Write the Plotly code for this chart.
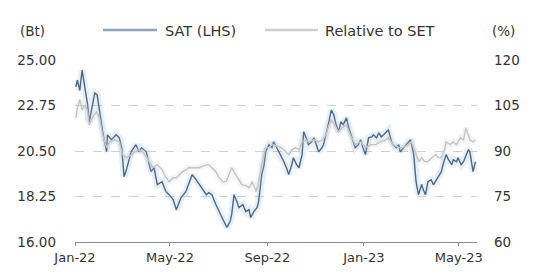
import plotly.graph_objects as go

# ---- data ----
sat_dates = ["2022-01-02","2022-01-04","2022-01-07","2022-01-10","2022-01-14","2022-01-17","2022-01-19","2022-01-22","2022-01-26","2022-01-29",
"2022-02-01","2022-02-05","2022-02-10","2022-02-11","2022-02-16","2022-02-22","2022-02-26","2022-03-01","2022-03-04","2022-03-07",
"2022-03-13","2022-03-19","2022-03-23","2022-03-26","2022-04-01","2022-04-07","2022-04-11","2022-04-15","2022-04-21","2022-04-26",
"2022-04-30","2022-05-05","2022-05-09","2022-05-13","2022-05-15","2022-05-21","2022-05-29","2022-06-03","2022-06-07","2022-06-12",
"2022-06-16","2022-06-19","2022-06-23","2022-06-28","2022-07-02","2022-07-07","2022-07-12","2022-07-16","2022-07-18","2022-07-21",
"2022-07-25","2022-07-27","2022-08-01","2022-08-05","2022-08-09","2022-08-11","2022-08-15","2022-08-19","2022-08-21","2022-08-25",
"2022-08-28","2022-08-30","2022-09-03","2022-09-07","2022-09-09","2022-09-13","2022-09-16","2022-09-19","2022-09-22","2022-09-26",
"2022-09-28","2022-10-02","2022-10-04","2022-10-08","2022-10-11","2022-10-15","2022-10-17","2022-10-21","2022-10-23","2022-10-27",
"2022-10-30","2022-11-02","2022-11-05","2022-11-09","2022-11-11","2022-11-15","2022-11-19","2022-11-21","2022-11-24","2022-11-26",
"2022-11-30","2022-12-03","2022-12-06","2022-12-10","2022-12-13","2022-12-16","2022-12-21","2022-12-25","2022-12-28","2022-12-31",
"2023-01-03","2023-01-07","2023-01-11","2023-01-13","2023-01-17","2023-01-20","2023-01-23","2023-01-26","2023-01-30","2023-02-01",
"2023-02-05","2023-02-07","2023-02-11","2023-02-14","2023-02-16","2023-02-20","2023-02-23","2023-02-26","2023-03-01","2023-03-05",
"2023-03-08","2023-03-11","2023-03-15","2023-03-17","2023-03-20","2023-03-23","2023-03-27","2023-03-30","2023-04-03","2023-04-05",
"2023-04-09","2023-04-11","2023-04-15","2023-04-18","2023-04-22","2023-04-24","2023-04-28","2023-04-30","2023-05-04","2023-05-07",
"2023-05-10","2023-05-13","2023-05-15","2023-05-18","2023-05-19","2023-05-22"]
sat_values = [23.67,24.0,23.5,24.5,23.5,22.78,21.94,22.6,23.37,23.27,
22.53,21.45,20.46,21.3,21.06,21.3,21.15,20.66,19.23,19.58,
20.46,20.81,20.46,20.66,20.46,19.48,19.67,18.84,18.98,18.49,
18.34,18.1,17.6,17.95,18.2,18.49,19.33,19.08,18.84,18.59,
18.34,18.44,18.34,17.85,17.5,17.11,16.72,17.01,17.36,18.34,
17.95,17.7,17.85,17.5,17.6,17.21,17.5,17.7,18.0,19.33,
19.82,20.46,20.81,20.66,20.96,20.66,20.46,20.17,19.97,19.58,
19.33,19.82,20.17,19.82,19.67,20.32,21.45,21.06,20.81,20.96,
21.15,20.81,20.46,20.66,20.81,21.45,22.14,22.53,22.29,21.94,
21.45,21.94,21.8,22.14,21.65,21.3,20.66,20.81,21.06,20.66,
20.32,21.15,21.2,21.3,21.15,21.4,21.2,21.3,21.45,21.55,
20.96,20.81,20.66,20.81,20.46,20.66,20.81,20.96,21.06,20.32,
18.98,18.34,18.84,18.59,18.34,18.98,19.08,18.84,19.08,19.18,
19.48,19.82,20.32,20.07,19.82,20.07,19.97,20.17,19.82,19.97,
20.32,20.56,20.46,19.82,19.48,19.97]

rel_dates = ["2022-01-02","2022-01-04","2022-01-07","2022-01-10","2022-01-14","2022-01-17","2022-01-19","2022-01-23","2022-01-28","2022-02-01",
"2022-02-05","2022-02-10","2022-02-14","2022-02-20","2022-02-26","2022-03-02","2022-03-07","2022-03-14","2022-03-21","2022-03-27",
"2022-04-02","2022-04-09","2022-04-15","2022-04-21","2022-04-26","2022-04-30","2022-05-05","2022-05-09","2022-05-13","2022-05-17",
"2022-05-21","2022-05-25","2022-06-01","2022-06-07","2022-06-13","2022-06-19","2022-06-23","2022-06-28","2022-07-02","2022-07-07",
"2022-07-11","2022-07-15","2022-07-18","2022-07-23","2022-07-27","2022-07-31","2022-08-05","2022-08-09","2022-08-13","2022-08-18",
"2022-08-21","2022-08-25","2022-08-30","2022-09-03","2022-09-07","2022-09-13","2022-09-19","2022-09-24","2022-09-28","2022-10-02",
"2022-10-07","2022-10-11","2022-10-15","2022-10-20","2022-10-23","2022-10-30","2022-11-05","2022-11-10","2022-11-14","2022-11-18",
"2022-11-21","2022-11-25","2022-11-30","2022-12-04","2022-12-10","2022-12-15","2022-12-21","2022-12-28","2023-01-03","2023-01-10",
"2023-01-16","2023-01-22","2023-01-29","2023-02-01","2023-02-07","2023-02-14","2023-02-20","2023-02-26","2023-03-02","2023-03-06",
"2023-03-08","2023-03-12","2023-03-15","2023-03-19","2023-03-23","2023-03-28","2023-04-02","2023-04-05","2023-04-09","2023-04-13",
"2023-04-15","2023-04-20","2023-04-24","2023-04-28","2023-05-03","2023-05-07","2023-05-10","2023-05-13","2023-05-15","2023-05-19",
"2023-05-22"]
rel_values = [100.9,104.2,106.9,103.6,105.2,102.9,98.6,100.9,102.9,100.9,
95.3,91.1,93.0,93.7,93.0,88.8,87.8,88.8,90.4,89.8,
87.8,84.5,85.5,83.8,81.2,79.9,81.2,81.2,82.2,83.2,
83.8,84.5,84.5,84.5,85.2,85.5,84.5,83.2,81.2,79.9,
79.9,82.2,84.5,82.2,80.6,78.9,78.6,77.9,79.9,76.6,
79.9,85.5,91.1,91.1,92.1,91.7,91.1,89.8,88.8,90.4,
91.1,90.4,93.0,93.7,93.0,93.7,93.0,93.7,95.3,98.6,
100.3,98.6,96.3,97.6,98.6,95.3,92.1,93.0,91.1,92.1,
92.1,93.0,93.7,94.4,92.1,91.1,91.1,92.1,93.0,90.4,
88.8,86.5,87.8,86.5,86.5,87.8,88.8,87.8,87.8,90.4,
93.0,92.1,93.0,92.1,94.4,93.7,97.6,95.3,93.7,93.0,
93.7]

x_tickvals = ["2022-01-01","2022-05-01","2022-09-01","2023-01-01","2023-05-01"]
x_ticktext = ["Jan-22","May-22","Sep-22","Jan-23","May-23"]
left_ticks = [16.00, 18.25, 20.50, 22.75, 25.00]
right_ticks = [60, 75, 90, 105, 120]
series_names = ["SAT (LHS)", "Relative to SET"]

FONT = "DejaVu Sans, Verdana, sans-serif"
TXT = "#333333"
SAT_COLOR = "#4a6888"
REL_COLOR = "#c4c4c4"

fig = go.Figure()
# soft shadows under the lines
fig.add_trace(go.Scatter(x=sat_dates, y=sat_values, mode="lines",
                         line=dict(color="rgba(140,185,225,0.22)", width=7),
                         hoverinfo="skip", showlegend=False))
fig.add_trace(go.Scatter(x=rel_dates, y=rel_values, mode="lines", yaxis="y2",
                         line=dict(color="rgba(200,200,200,0.18)", width=6),
                         hoverinfo="skip", showlegend=False))
fig.add_trace(go.Scatter(x=sat_dates, y=sat_values, mode="lines", name=series_names[0],
                         showlegend=False, line=dict(color=SAT_COLOR, width=1.4)))
fig.add_trace(go.Scatter(x=rel_dates, y=rel_values, mode="lines", name=series_names[1],
                         yaxis="y2", showlegend=False, line=dict(color=REL_COLOR, width=1.4)))

L, T, R, B = 75, 60, 58, 38
PW = 535.0 - L - R
PH = 280.0 - T - B

def px_x(x):
    return (x - L) / PW

def px_y(y):
    return (T + PH - y) / PH

# legend drawn as key lines + labels above the plot
legend_items = [(103, 157, 163, series_names[0], "#8ea4bc"),
                (265, 318, 323, series_names[1], "#cfcfcf")]
shapes = []
annotations = []
for x0, x1, xt, name, col in legend_items:
    shapes.append(dict(type="line", xref="paper", yref="paper",
                       x0=px_x(x0), x1=px_x(x1), y0=px_y(30), y1=px_y(30),
                       line=dict(color=col, width=2.5)))
    annotations.append(dict(text=name, xref="paper", yref="paper", x=px_x(xt), y=px_y(31),
                            xanchor="left", yanchor="middle", showarrow=False,
                            font=dict(size=14.5, color=TXT)))

annotations += [
    dict(text="(Bt)", xref="paper", yref="paper", x=px_x(18), y=px_y(31), xanchor="left",
         yanchor="middle", showarrow=False, font=dict(size=13.5, color=TXT)),
    dict(text="(%)", xref="paper", yref="paper", x=px_x(490), y=px_y(31), xanchor="left",
         yanchor="middle", showarrow=False, font=dict(size=13.5, color=TXT)),
]

fig.update_layout(
    width=535, height=280,
    margin=dict(l=L, r=R, t=T, b=B, autoexpand=False),
    paper_bgcolor="white", plot_bgcolor="white",
    font=dict(family=FONT, size=13.5, color=TXT),
    showlegend=False,
    xaxis=dict(type="date", range=["2022-01-01", "2023-05-24"],
               tickvals=x_tickvals, ticktext=x_ticktext,
               showgrid=False, showline=True, linecolor="#8a8a8a", linewidth=1,
               ticks="outside", ticklen=3, tickcolor="#8a8a8a",
               tickfont=dict(size=13, color=TXT), zeroline=False),
    yaxis=dict(range=[16, 25], tickvals=left_ticks, tickformat=".2f",
               showgrid=True, gridcolor="#d0d0d0", griddash="dash", gridwidth=1,
               zeroline=False, showline=False, ticklabelstandoff=18,
               tickfont=dict(size=13.5, color=TXT)),
    yaxis2=dict(range=[60, 120], tickvals=right_ticks, overlaying="y", side="right",
                showgrid=False, zeroline=False, showline=False, ticklabelstandoff=16,
                tickfont=dict(size=13.5, color=TXT)),
    shapes=shapes,
    annotations=annotations,
)

fig.write_html("out.html", config={"displayModeBar": False},
               post_script="document.body.style.margin='0';")
